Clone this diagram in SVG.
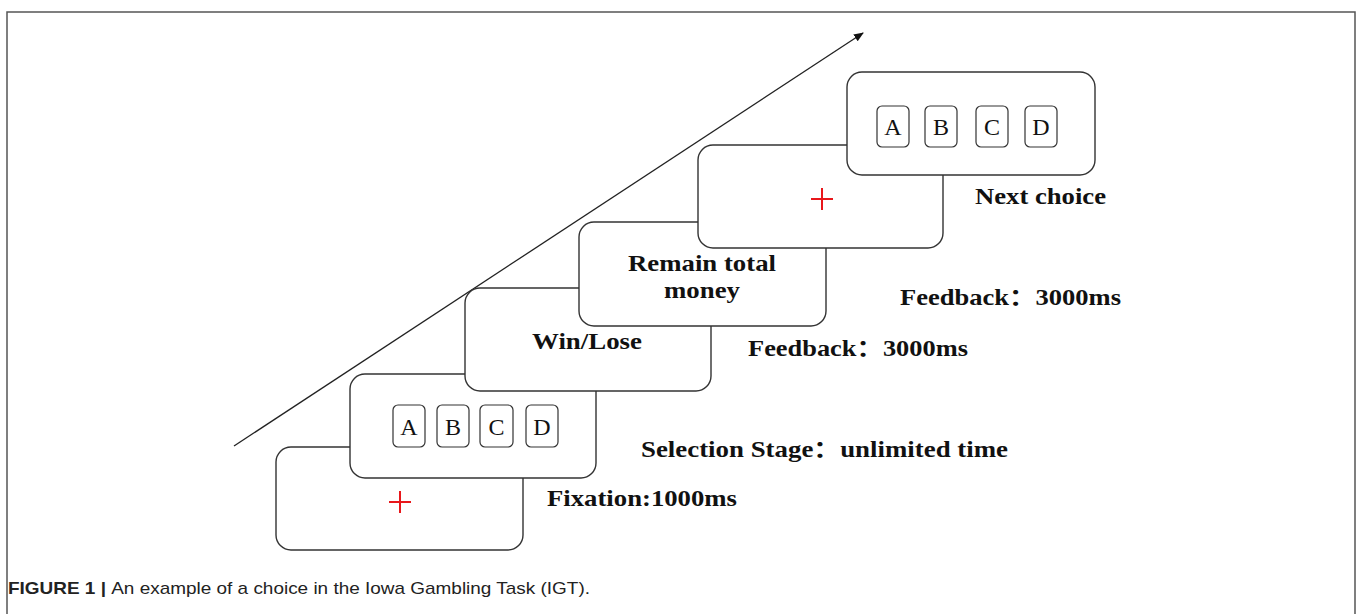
<svg xmlns="http://www.w3.org/2000/svg" width="1358" height="614" viewBox="0 0 1358 614">
<style>
.card{fill:#fff;stroke:#333;stroke-width:1.4}
.box{fill:#fff;stroke:#333;stroke-width:1.2}
.let{font-family:"Liberation Serif",serif;font-size:24px;fill:#111;text-anchor:middle}
.lbl{font-family:"Liberation Serif","Noto Sans CJK SC",serif;font-size:23px;font-weight:bold;fill:#111}
.mid{text-anchor:middle}
.cross{stroke:#e8171b;stroke-width:2}
.cap{font-family:"Liberation Sans",Arial,sans-serif;font-size:17px;fill:#222}
</style>
<defs>
<marker id="ah" viewBox="0 0 10 10" refX="9" refY="5" markerWidth="10" markerHeight="10" markerUnits="userSpaceOnUse" orient="auto">
<path d="M0,1 L10,5 L0,9 Z" fill="#111"/>
</marker>
</defs>
<rect x="7" y="12" width="1348" height="620" fill="none" stroke="#555" stroke-width="1.5"/>
<g id="connectors">
<line x1="234" y1="446" x2="863" y2="33" stroke="#222" stroke-width="1.3" marker-end="url(#ah)"/>
</g>
<g id="card1">
<rect class="card" x="276" y="447" width="247" height="103" rx="15"/>
<path class="cross" d="M389,502 H411 M400,491 V513"/>
</g>
<g id="card2">
<rect class="card" x="350" y="374" width="246" height="104" rx="15"/>
<rect class="box" x="393" y="405" width="32" height="42" rx="5"/>
<rect class="box" x="437" y="405" width="32" height="42" rx="5"/>
<rect class="box" x="480" y="405" width="33" height="42" rx="5"/>
<rect class="box" x="526" y="405" width="32" height="42" rx="5"/>
<text class="let" x="409" y="435">A</text>
<text class="let" x="453" y="435">B</text>
<text class="let" x="496.5" y="435">C</text>
<text class="let" x="542" y="435">D</text>
</g>
<g id="card3">
<rect class="card" x="465" y="288" width="246" height="103" rx="15"/>
<text class="lbl mid" x="587" y="349" textLength="110" lengthAdjust="spacingAndGlyphs">Win/Lose</text>
</g>
<g id="card4">
<rect class="card" x="579" y="222" width="247" height="104" rx="15"/>
<text class="lbl mid" x="702" y="271" textLength="148" lengthAdjust="spacingAndGlyphs">Remain total</text>
<text class="lbl mid" x="702" y="298" textLength="76" lengthAdjust="spacingAndGlyphs">money</text>
</g>
<g id="card5">
<rect class="card" x="698" y="145" width="245" height="103" rx="15"/>
<path class="cross" d="M811,199 H833 M822,188 V210"/>
</g>
<g id="card6">
<rect class="card" x="847" y="72" width="248" height="103" rx="15"/>
<rect class="box" x="877" y="106" width="32" height="41" rx="5"/>
<rect class="box" x="925" y="106" width="32" height="41" rx="5"/>
<rect class="box" x="976" y="106" width="32" height="41" rx="5"/>
<rect class="box" x="1025" y="106" width="32" height="41" rx="5"/>
<text class="let" x="893" y="135">A</text>
<text class="let" x="941" y="135">B</text>
<text class="let" x="992" y="135">C</text>
<text class="let" x="1041" y="135">D</text>
</g>
<g id="labels">
<text class="lbl" x="975" y="204" textLength="131" lengthAdjust="spacingAndGlyphs">Next choice</text>
<text class="lbl" x="900" y="305" textLength="221" lengthAdjust="spacingAndGlyphs">Feedback：3000ms</text>
<text class="lbl" x="748" y="356" textLength="220" lengthAdjust="spacingAndGlyphs">Feedback：3000ms</text>
<text class="lbl" x="641" y="457" textLength="367" lengthAdjust="spacingAndGlyphs">Selection Stage：unlimited time</text>
<text class="lbl" x="547" y="506" textLength="190" lengthAdjust="spacingAndGlyphs">Fixation:1000ms</text>
</g>
<g id="caption">
<text class="cap" x="8" y="594" textLength="582" lengthAdjust="spacingAndGlyphs"><tspan font-weight="bold">FIGURE 1 | </tspan>An example of a choice in the Iowa Gambling Task (IGT).</text>
</g>
</svg>
